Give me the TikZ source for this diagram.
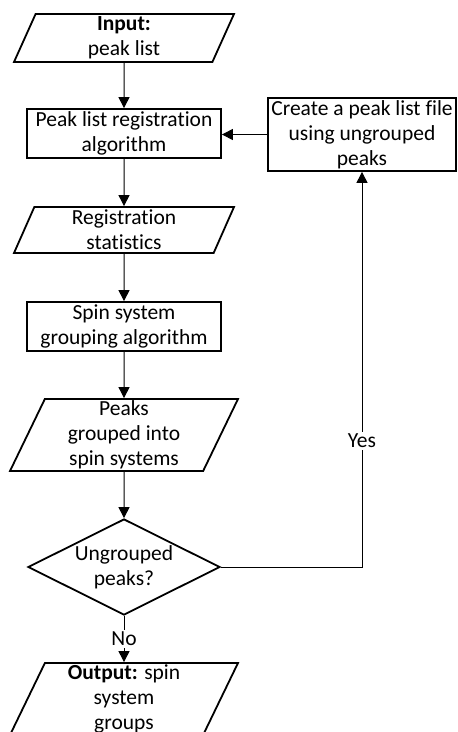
\documentclass[tikz,border=0pt]{standalone}
\usepackage{fontspec}
\setmainfont{Carlito}[Ligatures=NoCommon]
\usetikzlibrary{positioning, arrows.meta, shapes.geometric}

\begin{document}
\begin{tikzpicture}[
        x=1pt, y=-1pt,
        >={Triangle[width=11pt,length=11pt]},
        font=\fontsize{21.5}{25}\selectfont,
        process/.style={draw, line width=1.8pt, rectangle, minimum width=194pt, minimum height=49pt, inner sep=0pt, align=center},
        io/.style={draw, line width=1.8pt, trapezium, trapezium left angle=63, trapezium right angle=117, trapezium stretches body, minimum width=220pt, minimum height=48pt, inner sep=0pt, align=center},
        decision/.style={draw, line width=1.8pt, diamond, aspect=2, minimum width=192pt, minimum height=96pt, inner sep=0pt, align=center},
        flow/.style={->, line width=1pt},
        tag/.style={fill=white, inner sep=2pt},
    ]
        \useasboundingbox (0,0) rectangle (458,732);

        % Draw the main column
        \node[io] (input) at (124,38) {\textbf{Input:}\\peak list};
        \node[process] (reg) at (124,133.5) {Peak list registration\\algorithm};
        \node[io, minimum height=46pt] (stats) at (124,230) {Registration\\statistics};
        \node[process] (spin) at (124,326.5) {Spin system\\grouping algorithm};
        \node[io, minimum width=228pt, minimum height=72pt] (groups) at (124,435) {Peaks\\grouped into\\spin systems};
        \node[decision] (check) at (124,567) {Ungrouped\\peaks?};
        \node[io, minimum width=228pt, minimum height=72pt] (output) at (124,699) {\textbf{Output:} spin\\system\\groups};

        % Draw the feedback box
        \node[process, minimum width=188pt, minimum height=73pt] (create) at (362,134.5) {Create a peak list file\\using ungrouped\\peaks};

        % Connect the main column
        \foreach \source / \dest in {input/reg, reg/stats, stats/spin, spin/groups, groups/check}
            \draw[flow] (\source) -- (\dest);
        \draw[flow] (check) -- node[tag] {No} (output);

        % Connect the loop back
        \draw[flow] (check.east) -| node[tag, pos=0.66] {Yes} (create.south);
        \draw[flow] (create.west) -- (reg.east |- create.west);
    \end{tikzpicture}
\end{document}
